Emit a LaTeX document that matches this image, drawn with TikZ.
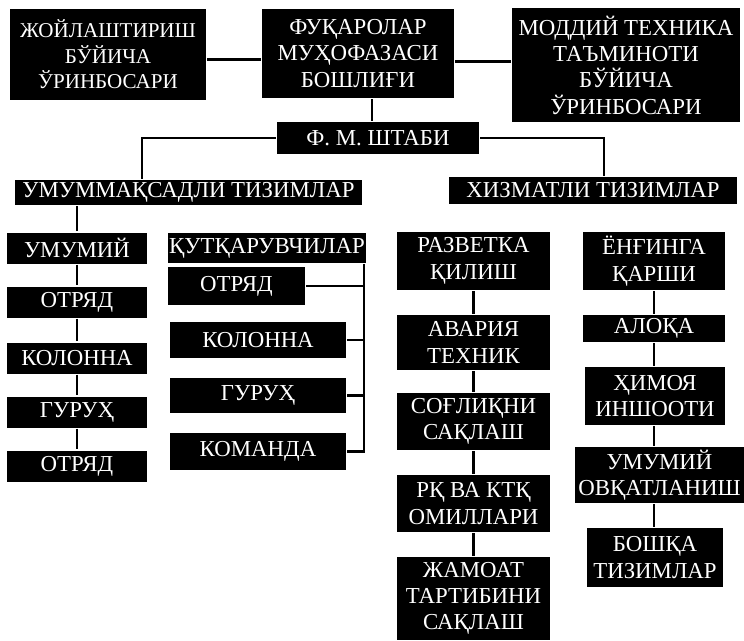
\documentclass[tikz,border=0pt]{standalone}
\usepackage{fontspec}
\setmainfont{Liberation Serif}
\begin{document}
\begin{tikzpicture}[x=0.02cm,y=-0.02cm,line width=1.2pt,
        blk/.style={fill=black,text=white,inner sep=0pt,align=center,font=\fontsize{13}{15}\selectfont},]
        \useasboundingbox (0,0) rectangle (744,640);
        \node[blk,minimum width=3.92cm,minimum height=1.82cm,font=\fontsize{12}{14.5}\selectfont] (jo) at (108,54.5) {ЖОЙЛАШТИРИШ\\БЎЙИЧА\\ЎРИНБОСАРИ};
        \node[blk,minimum width=3.84cm,minimum height=1.78cm] (fm) at (358,53.5) {ФУҚАРОЛАР\\МУҲОФАЗАСИ\\БОШЛИҒИ};
        \node[blk,minimum width=4.56cm,minimum height=2.28cm] (md) at (626,65) {МОДДИЙ ТЕХНИКА\\ТАЪМИНОТИ\\БЎЙИЧА\\ЎРИНБОСАРИ};
        \node[blk,minimum width=4.04cm,minimum height=0.64cm] (sh) at (378,138) {Ф. М. ШТАБИ};
        \node[blk,minimum width=6.94cm,minimum height=0.5cm] (um) at (188.5,192.5) {УМУММАҚСАДЛИ ТИЗИМЛАР};
        \node[blk,minimum width=5.76cm,minimum height=0.54cm] (xz) at (593,190.5) {ХИЗМАТЛИ ТИЗИМЛАР};
        \node[blk,minimum width=2.8cm,minimum height=0.62cm] (c1a) at (77,248) {УМУМИЙ};
        \node[blk,minimum width=2.8cm,minimum height=0.62cm] (c1b) at (77,302) {ОТРЯД};
        \node[blk,minimum width=2.8cm,minimum height=0.62cm] (c1c) at (77,358) {КОЛОННА};
        \node[blk,minimum width=2.8cm,minimum height=0.62cm] (c1d) at (77,412) {ГУРУҲ};
        \node[blk,minimum width=2.8cm,minimum height=0.62cm] (c1e) at (77,466) {ОТРЯД};
        \node[blk,minimum width=3.96cm,minimum height=0.6cm] (kt) at (267,248) {ҚУТҚАРУВЧИЛАР};
        \node[blk,minimum width=2.74cm,minimum height=0.76cm] (k1) at (236.5,286) {ОТРЯД};
        \node[blk,minimum width=3.52cm,minimum height=0.72cm] (k2) at (258,340) {КОЛОННА};
        \node[blk,minimum width=3.52cm,minimum height=0.7cm] (k3) at (258,395.5) {ГУРУҲ};
        \node[blk,minimum width=3.52cm,minimum height=0.74cm] (k4) at (258,451.5) {КОМАНДА};
        \node[blk,minimum width=3.06cm,minimum height=1.16cm] (r1) at (473.5,261) {РАЗВЕТКА\\ҚИЛИШ};
        \node[blk,minimum width=3.06cm,minimum height=1.1cm] (r2) at (473.5,342.5) {АВАРИЯ\\ТЕХНИК};
        \node[blk,minimum width=3.06cm,minimum height=1.14cm] (r3) at (473.5,421.5) {СОҒЛИҚНИ\\САҚЛАШ};
        \node[blk,minimum width=3.06cm,minimum height=1.14cm] (r4) at (473.5,503.5) {РҚ ВА КТҚ\\ОМИЛЛАРИ};
        \node[blk,minimum width=3.06cm,minimum height=1.66cm] (r5) at (473.5,598.5) {ЖАМОАТ\\ТАРТИБИНИ\\САҚЛАШ};
        \node[blk,minimum width=2.84cm,minimum height=1.16cm] (e1) at (654,261) {ЁНҒИНГА\\ҚАРШИ};
        \node[blk,minimum width=2.84cm,minimum height=0.54cm] (e2) at (654,328.5) {АЛОҚА};
        \node[blk,minimum width=2.8cm,minimum height=1.16cm] (e3) at (655,396) {ҲИМОЯ\\ИНШООТИ};
        \node[blk,minimum width=3.38cm,minimum height=1.12cm] (e4) at (659.5,475) {УМУМИЙ\\ОВҚАТЛАНИШ};
        \node[blk,minimum width=2.72cm,minimum height=1.18cm] (e5) at (655,557.5) {БОШҚА\\ТИЗИМЛАР};
        \draw ([yshift=-0.1cm]jo.east) -- ([yshift=-0.1cm]jo.east -| fm.west);
        \draw ([yshift=-0.16cm]fm.east) -- ([yshift=-0.16cm]fm.east -| md.west);
        \draw ([xshift=0.28cm]fm.south) -- ([xshift=0.28cm]fm.south |- sh.north);
        \draw (sh.west) -| ([xshift=-0.93cm]um.north);
        \draw (sh.east) -| ([xshift=0.22cm]xz.north);
        \draw (um.south -| c1a.north) -- (c1a.north);
        \foreach \a/\b in {c1a/c1b,c1b/c1c,c1c/c1d,c1d/c1e} \draw (\a.south) -- (\b.north);
        \coordinate (kb) at ([xshift=-0.06cm]kt.south east);
        \draw (kb) |- (k4.east);
        \foreach \n in {k1,k2,k3} \draw (\n.east) -- (\n.east -| kb);
        \foreach \a/\b in {r1/r2,r2/r3,r3/r4,r4/r5} \draw (\a.south) -- (\b.north);
        \foreach \a/\b in {e1/e2,e2/e3,e3/e4,e4/e5} \draw (\a.south -| e1.south) -- (\b.north -| e1.south);
    \end{tikzpicture}
\end{document}
